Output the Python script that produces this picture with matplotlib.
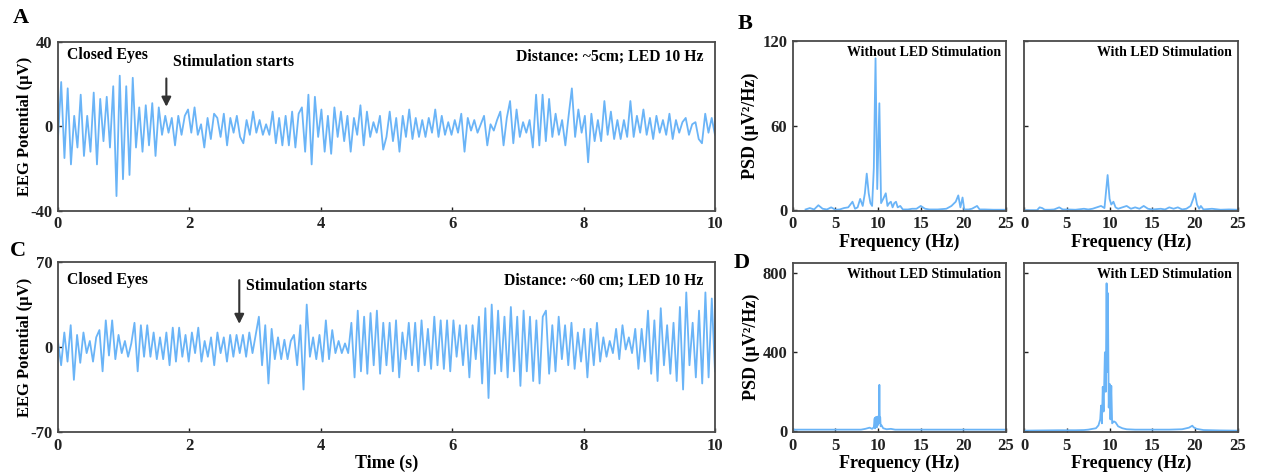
import numpy as np
import matplotlib.pyplot as plt

plt.rcParams['font.family'] = ['Liberation Serif', 'DejaVu Serif']
plt.rcParams['font.weight'] = 'bold'
plt.rcParams['axes.labelweight'] = 'bold'
plt.rcParams['axes.unicode_minus'] = False

# EEG traces, successive half-cycle extrema (uV), 0-10 s
eeg_a = [-6, 21, -15, 18, -18, 5, -10, 15, -14, 5, -12, 16, -18, 13, -7, 14, -10, 19, -33, 24,
         -25, 19, -23, 23, -10, 9, -12, 10, -9, 11, -14, 9, -4, 5, -3, 4, -9, 5, -4, 5,
         8, -3, 9, -4, 1, -10, 4, -6, 6,
         4, -5, 6, -9, 4, -3, 5, -5, -8, 3, -4, 7, -3, 3, -4, 1, -4, 7, -8, 4,
         -9, 5, -9, 7, -10, 6, 9, -12, 15, -18, 14, -5, 8, -12, 5, -13, 9, -5, 7, -7,
         5, -12, 4, -4, 10, -9, 7, -5, 2, -3, 5, -11,
         -5, 7, -7, 4, -12, 5, -5, 8, -6, 4, -5, 3, -5, 4, -3, 8, -5, 5, -4, 2,
         -4, 3, -3, 6, -12, 4, -2, 3, -3, 1, 5, -9, 1, -2, 3, 7, -9, 4, 12, -8,
         8, -5, 2, -3, 3, -10, 15, -9, 15, -7, 13,
         -5, 6, -4, 3, -9, 5, 18, -5, 8, -3, 5, -17, 6, -7, 3, -7, 12, -4, 7, -6,
         3, -6, 3, -5, 12, -5, 5, -3, 8, -4, 4, -6, 5, -3, 3, -4, 6, -6, 3, -3,
         2, 4, -4, 1, 2, -6, -8, 6, -3, 4, -4]
eeg_c = [5, -15, 12, -12, 18, -27, 10, -13, 12, -5, 5, -12, 8, 14, -20, 22, -7, 22, -10, 10,
         -5, 5, -8, 3, 20, -20, 18, -8, 18, -8, 12, -10, 8, -10, 12, -15, 16, -12, 16, -8,
         10, -12, 12, -5, 16, -12, 5, -8, 8, -15,
         12, -5, 8, -12, 10, -8, 10, -5, 10, -8, 12, -5, 10, 25, -15, 18, -30, 15, -10, 8,
         -10, 6, -10, 5, 10, -15, 18, -35, 35, -8, 8, -10, 10, -12, 22, -10, 14, -5, 5, -5,
         3, -5, 20, -25, 30, -20, 25, -22, 28, -15, 30, -22, 20,
         -15, 20, -20, 22, -25, 12, -10, 20, -15, 20, -20, 22, -15, 15, -18, 25, -15, 22, -18, 22,
         -20, 22, -8, 18, -15, 18, -25, 18, -10, 25, -30, 32, -42, 35, -22, 30, -20, 25, -25, 33,
         -20, 25, -32, 30, -20, 25, -28, 22, -30, 25, 30, -22, 18,
         -20, 25, -10, 18, -15, 20, -18, 12, -12, 15, -25, 15, -15, 20, -12, 8, -8, 5, -5, 15,
         -10, 18, -2, 8, -5, 15, -18, 15, -12, 30, -22, 22, -28, 32, -15, 18, -22, 20, -28, 33,
         -35, 45, -15, 20, -25, 30, -30, 45, -25, 40, -20]

# PSD (uV^2/Hz)
f_b1 = [1.5, 2.0, 2.5, 3.0, 3.5, 4.0, 4.5, 5.0, 5.5, 6.0, 6.5, 7.0, 7.3, 7.6, 7.9, 8.2, 8.45, 8.67,
        8.9, 9.1, 9.3, 9.5, 9.7, 9.9, 10.15, 10.35, 10.6, 10.9, 11.1, 11.3, 11.5, 11.7, 11.9, 12.1,
        12.3, 12.6, 12.9, 13.5, 14.0, 14.5, 15.0, 15.5, 16.0, 17.0, 18.0, 18.6, 19.1, 19.4, 19.65,
        19.9, 20.1, 20.6, 21.0, 21.6, 21.9, 22.5, 23.5, 25.0]
psd_b1 = [0.5, 1.5, 0.5, 3.5, 1, 0.5, 2, 0.3, 0.5, 1.5, 2, 6, 1, 2, 8, 3, 12, 26,
          12, 5, 3, 30, 108, 15, 76, 5, 8, 12, 3, 5, 6, 2, 5, 6,
          2, 3, 0.5, 0.5, 1, 1, 3, 1, 0.5, 0.5, 1, 3, 6, 10.5, 2,
          9, 0.5, 0.5, 1, 3, 0.5, 0.5, 0.3, 0.3]
f_b2 = [0, 1.5, 1.8, 2.1, 2.4, 3.0, 3.5, 4.1, 4.5, 5.0, 6.0, 7.0, 7.5, 8.0, 8.5, 9.0, 9.4, 9.77,
        10.0, 10.2, 10.45, 10.7, 11.0, 11.5, 12.0, 12.5, 13.0, 13.5, 14.0, 14.5, 15.0, 16.0, 16.5,
        17.0, 17.5, 18.0, 18.5, 19.0, 19.5, 19.8, 20.0, 20.25, 20.5, 20.7, 21.0, 22.0, 23.0, 24.0, 25.0]
psd_b2 = [0, 0, 2, 1.5, 0.3, 0.3, 0.5, 2, 0.5, 0.5, 0.3, 1, 0.5, 1, 2, 3, 1.5, 25,
          8, 4, 6, 2, 1, 2, 3, 1, 2, 1, 3, 1, 0.5, 1, 0.5,
          2, 1, 2, 0.5, 1, 3, 8, 12, 4, 1, 3, 0.5, 1, 0.3, 0.5, 0.3]
f_d1 = [0, 5, 8.0, 8.5, 9.0, 9.3, 9.5, 9.6, 9.65, 9.7, 9.75, 9.8, 9.85, 9.9, 9.95, 10.0, 10.05,
        10.1, 10.15, 10.2, 10.25, 10.3, 10.4, 10.6, 11.0, 11.5, 12.0, 15, 20, 25]
psd_d1 = [8, 8, 8, 12, 18, 12, 20, 65, 15, 70, 25, 72, 20, 70, 30, 75, 60,
          40, 235, 50, 70, 25, 30, 15, 10, 12, 8, 8, 8, 8]
f_d2 = [0, 2, 4, 6, 7, 7.5, 8.0, 8.4, 8.7, 8.9, 9.0, 9.1, 9.2, 9.3, 9.45, 9.55, 9.65, 9.72, 9.8,
        9.9, 10.0, 10.1, 10.2, 10.3, 10.5, 10.7, 11.0, 11.5, 12.0, 13, 15, 17, 18.5, 19.3, 19.7,
        19.85, 20.2, 21, 22, 23, 25]
psd_d2 = [3, 4, 5, 5, 6, 8, 12, 15, 30, 60, 130, 40, 225, 100, 400, 200, 750, 300, 700,
          120, 240, 60, 230, 40, 50, 45, 25, 15, 10, 8, 8, 8, 10, 18, 28,
          20, 12, 6, 5, 4, 3]

blue = '#6AB4F7'
edge = '#4a4a4a'


def style(ax):
    for s in ax.spines.values():
        s.set_color(edge)
        s.set_linewidth(1.3)
    ax.tick_params(direction='in', length=3, width=1, colors='#222222', labelsize=12, pad=4)


fig = plt.figure(figsize=(12.65, 4.76), dpi=100)

# 时域EEG (A, C)
eeg_specs = [
    ([0.0458, 0.557, 0.5194, 0.355], eeg_a, 40, 'Distance: ~5cm; LED 10 Hz', 0.175, 0.882, 0.923, 0.911),
    ([0.0458, 0.0924, 0.5194, 0.357], eeg_c, 70, 'Distance: ~60 cm; LED 10 Hz', 0.286, 0.859, 0.894, 0.894),
]
for i, (pos, sig, lim, dist, sx, sy, cy, dy) in enumerate(eeg_specs):
    ax = fig.add_axes(pos)
    t = np.linspace(0, 10, len(sig))
    ax.plot(t, sig, color=blue, lw=1.3, solid_joinstyle='round')
    ax.set_xlim(0, 10)
    ax.set_ylim(-lim, lim)
    ax.set_xticks([0, 2, 4, 6, 8, 10])
    ax.set_yticks([-lim, 0, lim])
    style(ax)
    ax.set_ylabel('EEG Potential (\u00b5V)', fontsize=12, labelpad=-2)
    if i == 1:
        ax.set_xlabel('Time (s)', fontsize=13, labelpad=1)
    ax.text(0.014, cy, 'Closed Eyes', transform=ax.transAxes, fontsize=11.3, va='center')
    ax.text(sx, sy, 'Stimulation starts', transform=ax.transAxes, fontsize=11.3, va='center')
    ax.text(0.982, dy, dist, transform=ax.transAxes, fontsize=11.3, va='center', ha='right')
    ax_x = sx - 0.01
    top_y = 0.80 if i == 0 else 0.91
    tip_y = 0.60 if i == 0 else 0.62
    ax.annotate('', xy=(ax_x, tip_y), xytext=(ax_x, top_y), xycoords='axes fraction',
                arrowprops=dict(arrowstyle='-|>', color='#333333', lw=1.5, mutation_scale=14))

# 功率谱 (B, D)
psd_specs = [
    (0.557, [(f_b1, psd_b1), (f_b2, psd_b2)], (-0.5, 120), [0, 60, 120]),
    (0.0924, [(f_d1, psd_d1), (f_d2, psd_d2)], (-4, 855), [0, 400, 800]),
]
lefts = [0.6267, 0.8097]
titles = ['Without LED Stimulation', 'With LED Stimulation']
for bottom, series, ylim, yt in psd_specs:
    for j, (f, p) in enumerate(series):
        ax = fig.add_axes([lefts[j], bottom, 0.1686, 0.356])
        ax.plot(f, p, color=blue, lw=1.3, solid_joinstyle='round')
        ax.set_xlim(0, 25)
        ax.set_ylim(*ylim)
        ax.set_xticks([0, 5, 10, 15, 20, 25])
        ax.set_yticks(yt)
        style(ax)
        if j == 0:
            ax.set_ylabel('PSD (\u00b5V\u00b2/Hz)', fontsize=13, labelpad=2)
        else:
            ax.set_yticklabels([])
        ax.set_xlabel('Frequency (Hz)', fontsize=13, labelpad=1)
        ax.text(0.975, 0.932, titles[j], transform=ax.transAxes, fontsize=10,
                va='center', ha='right')

# 面板字母
for letter, x, y in [('A', 0.010, 0.962), ('B', 0.583, 0.95), ('C', 0.008, 0.472), ('D', 0.580, 0.448)]:
    fig.text(x, y, letter, fontsize=16, fontweight='bold', va='center')

plt.savefig('out.png', dpi=100)
